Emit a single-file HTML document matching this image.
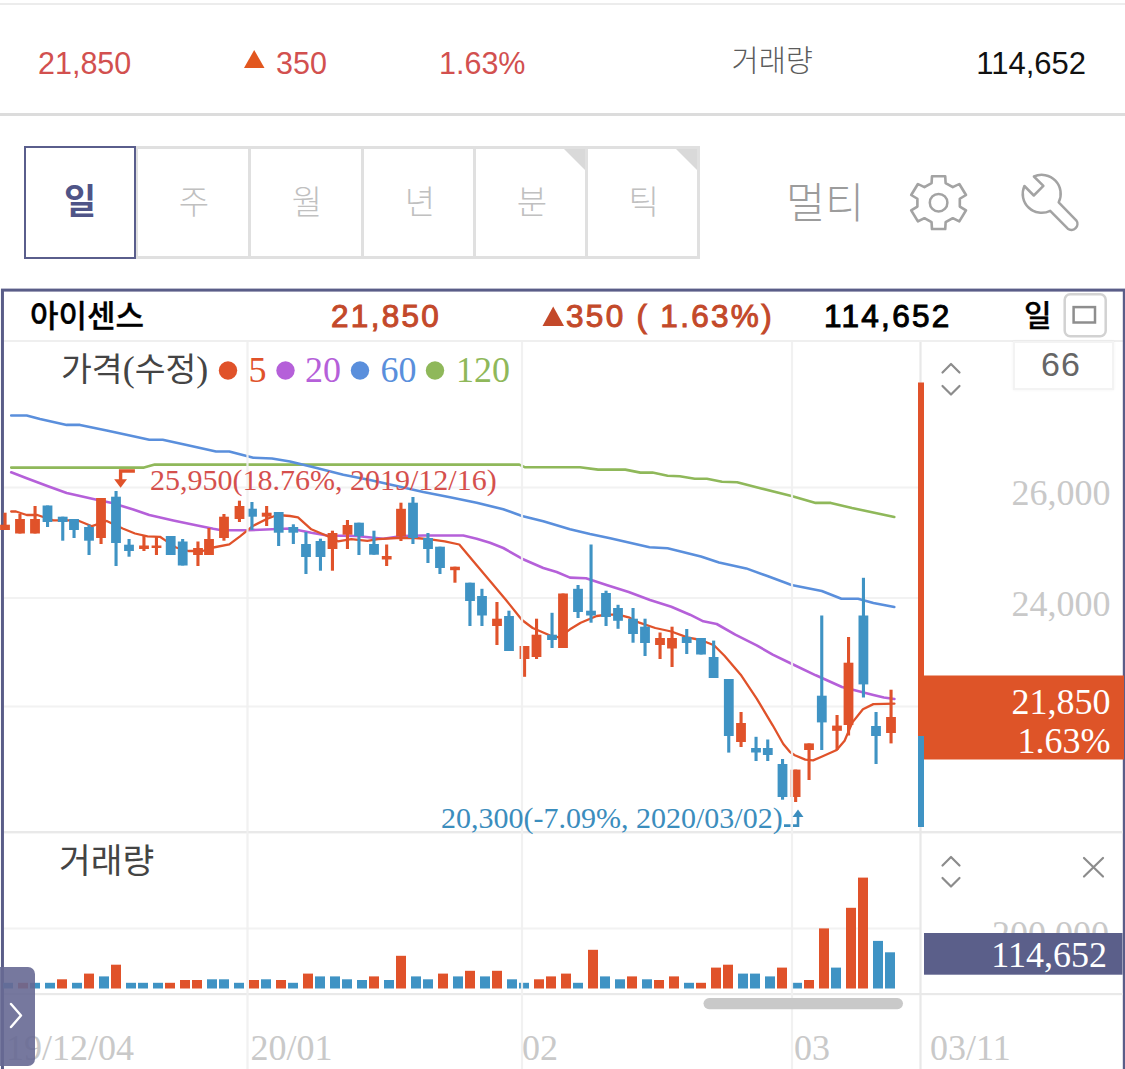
<!DOCTYPE html>
<html lang="ko"><head><meta charset="utf-8"><title>아이센스 차트</title>
<style>
html,body{margin:0;padding:0;background:#fff;}
body{width:1125px;height:1069px;position:relative;overflow:hidden;font-family:"Liberation Sans","Noto Sans CJK KR",sans-serif;}
.a{position:absolute;white-space:nowrap;line-height:1;}
.sans{font-family:"Liberation Sans","Noto Sans CJK KR",sans-serif;}
.ser{font-family:"Liberation Serif","Noto Sans CJK KR",serif;}
.top{font-size:30.5px;color:#d2504f;top:48px;}
.tab{position:absolute;top:146px;height:113px;width:116px;padding-top:1px;border:3px solid #e0e0e0;box-sizing:border-box;color:#c0c0c0;font-weight:300;font-size:33px;text-align:center;line-height:105px;text-indent:3px;background:#fff;}
.tab.on{border:2px solid #5a5e8c;color:#4f5487;font-weight:bold;font-size:35px;z-index:2;text-indent:0;line-height:106px;}
.tri{position:absolute;right:0;top:0;width:0;height:0;border-top:21px solid #d9d9d9;border-left:21px solid transparent;}
.hd{top:300.5px;font-size:31.5px;font-weight:normal;-webkit-text-stroke:1px currentColor;}
.ax{font-size:36px;color:#c9c9c9;}
svg{position:absolute;left:0;top:0;}
</style></head><body>
<div class="a" style="left:0;top:2.5px;width:1125px;height:2px;background:#ececec"></div>
<div class="a" style="left:0;top:113px;width:1125px;height:3.4px;background:#dcdcdc"></div>
<div class="a top" style="left:38px;">21,850</div>
<div class="a top" style="left:276px;">350</div>
<div class="a top" style="left:439px;">1.63%</div>
<div class="a" style="left:731.5px;top:46px;font-size:29.5px;font-weight:300;color:#5c5c5c;">거래량</div>
<div class="a top" style="right:39px;color:#111;font-size:31px;">114,652</div>

<div class="tab on" style="left:24px;width:112px;">일</div>
<div class="tab" style="left:134.5px;">주</div>
<div class="tab" style="left:247.5px;">월</div>
<div class="tab" style="left:360.5px;">년</div>
<div class="tab" style="left:473px;width:115px;">분<span class="tri"></span></div>
<div class="tab" style="left:585px;width:114.5px;">틱<span class="tri"></span></div>
<div class="a" style="left:786px;top:183px;font-size:42.5px;font-weight:300;color:#9c9c9c;">멀티</div>

<div class="a" style="left:4px;top:339.6px;width:1119px;height:2.2px;background:#efefef"></div>
<div class="a hd" style="left:30px;top:300.5px;color:#000;font-size:31px;font-weight:500;-webkit-text-stroke:0.3px #000;">아이센스</div>
<div class="a hd" id="h1" style="left:331px;color:#c3492a;letter-spacing:2.3px;">21,850</div>
<div class="a hd" id="h2" style="left:566px;color:#c3492a;letter-spacing:2.3px;">350 ( 1.63%)</div>
<div class="a hd" id="h3" style="left:824px;color:#000;letter-spacing:2.3px;">114,652</div>
<div class="a hd" style="left:1024px;top:300.5px;color:#000;font-size:30px;font-weight:500;-webkit-text-stroke:0.3px #000;">일</div>

<div class="a" style="left:1013px;top:341px;width:97px;height:45px;border:2px solid #f3f3f3;background:#fff;box-shadow:0 0 3px rgba(0,0,0,0.05);"></div>
<div class="a sans" style="left:1041px;top:347px;font-size:34px;letter-spacing:1px;color:#666;">66</div>

<svg width="1125" height="1069" viewBox="0 0 1125 1069">
<rect x="2.45" y="290.1" width="1121.85" height="800" fill="none" stroke="#5a5d88" stroke-width="3"/>
<rect x="1064.7" y="294.2" width="41" height="42" rx="5.5" fill="#fff" stroke="#d2d2d2" stroke-width="2.5"/>
<rect x="1073.6" y="307.1" width="21.4" height="15.4" fill="none" stroke="#8e8e8e" stroke-width="2.5"/>
<polygon points="244,68 264.5,68 254.2,50" fill="#e2571f"/>
<polygon points="542.5,326 564,326 553.2,306.5" fill="#c3492a"/>
<g transform="translate(938.6,202.7) scale(1.05,1)"><path d="M-6.7,-19.5 L-6.3,-26.4 L6.3,-26.4 L6.7,-19.5 L13.5,-15.5 L19.7,-18.7 L26.1,-7.7 L20.2,-3.9 L20.2,3.9 L26.1,7.7 L19.7,18.7 L13.5,15.5 L6.7,19.5 L6.3,26.4 L-6.3,26.4 L-6.7,19.5 L-13.5,15.5 L-19.7,18.7 L-26.1,7.7 L-20.2,3.9 L-20.2,-3.9 L-26.1,-7.7 L-19.7,-18.7 L-13.5,-15.5Z" fill="none" stroke="#a3a3a3" stroke-width="2.5" stroke-linejoin="round"/></g>
<circle cx="938.6" cy="202.7" r="8.8" fill="none" stroke="#a3a3a3" stroke-width="2.5"/>
<path d="M1033.9,176.5 L1043.4,185.9 L1033.8,195.5 L1024.4,186 A19 19 0 0 0 1050.2,210.8 L1067.8,228.7 A6 6 0 0 0 1076.2,220.3 L1058.7,202.3 A19 19 0 0 0 1033.9,176.5 Z" fill="none" stroke="#a3a3a3" stroke-width="2.5" stroke-linejoin="round"/>
<rect x="4" y="486.5" width="916" height="2" fill="#f2f2f2"/>
<rect x="4" y="597.0" width="916" height="2" fill="#f2f2f2"/>
<rect x="4" y="705.5" width="916" height="2" fill="#f2f2f2"/>
<rect x="4" y="927.5" width="916" height="2" fill="#f2f2f2"/>
<rect x="4" y="831" width="1119" height="2.4" fill="#e9e9e9"/>
<rect x="4" y="993" width="1119" height="2.2" fill="#e9e9e9"/>
<polyline fill="none" stroke="#8fb85a" stroke-width="2.6" stroke-linejoin="round" stroke-linecap="round" points="11.2,467.6 144.0,467.6 154.7,464.6 519.3,464.6 524.7,467.2 580.0,467.2 598.1,469.6 625.3,469.6 640.4,472.6 652.5,472.6 667.6,475.7 679.7,476.3 694.8,478.7 706.9,478.7 722.0,481.7 737.1,482.3 761.3,488.4 791.5,495.9 815.7,502.9 830.8,502.9 852.0,508.0 894.3,517.0"/>
<polyline fill="none" stroke="#5a8fdc" stroke-width="2.6" stroke-linejoin="round" stroke-linecap="round" points="11.2,415.5 26.7,415.5 40.0,419.0 66.7,424.9 80.0,424.9 106.7,430.5 133.3,436.3 149.3,439.8 162.7,439.8 186.7,445.0 216.0,451.5 229.3,451.5 253.3,457.7 272.0,458.5 290.0,461.5 316.7,468.0 343.3,474.7 370.0,480.0 396.7,485.9 423.3,492.0 450.0,497.3 476.7,502.7 503.3,509.3 522.0,516.0 543.3,521.3 570.0,529.3 590.0,534.0 610.2,538.2 649.5,547.3 667.6,548.2 700.9,556.4 719.0,562.4 746.2,568.4 767.4,576.0 791.5,585.0 821.8,591.0 841.4,598.7 858.0,598.7 873.4,603.0 894.3,607.0"/>
<polyline fill="none" stroke="#b560d9" stroke-width="2.6" stroke-linejoin="round" stroke-linecap="round" points="11.2,472.3 26.7,478.2 48.0,486.2 66.7,493.0 93.3,499.0 112.0,503.0 133.3,509.5 149.3,515.0 173.3,520.5 197.3,525.5 213.3,528.8 221.3,530.2 248.0,530.2 290.0,528.5 311.3,532.8 327.3,535.5 356.7,536.0 383.3,538.7 402.0,536.0 423.3,535.5 463.3,535.5 476.7,538.7 490.0,542.7 503.3,548.0 522.0,558.7 543.3,568.0 556.7,572.0 570.0,577.6 586.0,578.3 607.3,585.3 628.7,592.0 650.0,600.0 671.3,606.7 690.0,614.7 703.3,621.3 716.7,624.0 735.3,634.7 756.7,645.3 772.7,654.7 790.0,663.0 815.8,675.3 842.0,687.0 857.7,691.0 873.4,695.0 883.9,697.5 894.4,699.0"/>
<polyline fill="none" stroke="#e0522a" stroke-width="2.3" stroke-linejoin="round" stroke-linecap="round" points="11.2,511.5 16.0,511.5 26.7,515.0 37.3,515.0 53.3,520.3 64.0,520.3 77.3,520.3 92.0,526.2 106.7,521.0 122.7,528.5 135.0,533.5 147.6,536.3 160.0,536.8 165.3,540.4 176.0,547.5 188.4,551.0 202.7,551.0 213.3,547.5 229.3,544.3 240.0,536.3 253.3,525.7 266.7,519.0 277.3,515.0 290.0,516.0 298.0,517.3 311.3,529.3 327.3,536.0 338.0,541.3 351.3,539.2 367.3,540.8 378.0,539.2 396.7,538.0 415.3,538.0 428.7,539.2 444.7,541.3 459.3,544.5 476.7,565.3 490.0,581.0 506.0,600.0 522.0,620.0 532.7,628.0 551.3,636.0 559.3,637.3 570.0,629.3 580.7,622.7 596.7,616.0 607.3,614.7 618.0,614.7 628.7,617.3 639.3,622.7 655.3,628.0 671.3,631.5 687.3,637.3 700.7,640.0 714.0,645.3 724.7,656.0 740.7,674.7 756.7,698.7 772.7,725.3 783.3,744.0 790.0,752.0 794.8,755.2 805.3,759.6 813.1,760.4 821.0,757.0 836.7,750.0 844.6,740.8 852.4,722.4 862.9,709.3 873.4,704.1 894.4,703.6"/>
<rect x="3.5" y="512.7" width="3.1" height="17.3" fill="#e0522a"/>
<rect x="0.1" y="524.7" width="9.8" height="5.3" fill="#e0522a"/>
<rect x="18.4" y="514.0" width="3.1" height="19.5" fill="#e0522a"/>
<rect x="15.1" y="519.0" width="9.8" height="14.5" fill="#e0522a"/>
<rect x="33.5" y="506.0" width="3.1" height="27.5" fill="#e0522a"/>
<rect x="30.1" y="519.0" width="9.8" height="14.5" fill="#e0522a"/>
<rect x="46.0" y="505.5" width="3.1" height="21.5" fill="#3f93c4"/>
<rect x="42.6" y="505.5" width="9.8" height="16.5" fill="#3f93c4"/>
<rect x="61.2" y="516.7" width="3.1" height="24.0" fill="#3f93c4"/>
<rect x="57.8" y="516.7" width="9.8" height="5.3" fill="#3f93c4"/>
<rect x="72.5" y="519.0" width="3.1" height="19.0" fill="#3f93c4"/>
<rect x="69.1" y="519.0" width="9.8" height="11.0" fill="#3f93c4"/>
<rect x="87.5" y="524.7" width="3.1" height="30.3" fill="#3f93c4"/>
<rect x="84.1" y="527.0" width="9.8" height="13.7" fill="#3f93c4"/>
<rect x="99.5" y="498.0" width="3.1" height="46.0" fill="#e0522a"/>
<rect x="96.1" y="498.0" width="9.8" height="40.0" fill="#e0522a"/>
<rect x="114.5" y="491.0" width="3.1" height="75.0" fill="#3f93c4"/>
<rect x="111.1" y="496.7" width="9.8" height="46.3" fill="#3f93c4"/>
<rect x="127.5" y="539.0" width="3.1" height="17.7" fill="#3f93c4"/>
<rect x="124.1" y="544.7" width="9.8" height="6.3" fill="#3f93c4"/>
<rect x="142.4" y="535.0" width="3.1" height="16.0" fill="#e0522a"/>
<rect x="139.1" y="545.5" width="9.8" height="3.5" fill="#e0522a"/>
<rect x="154.9" y="536.7" width="3.1" height="18.3" fill="#e0522a"/>
<rect x="151.6" y="545.5" width="9.8" height="2.5" fill="#e0522a"/>
<rect x="169.1" y="536.0" width="3.1" height="19.0" fill="#3f93c4"/>
<rect x="165.8" y="536.0" width="9.8" height="19.0" fill="#3f93c4"/>
<rect x="181.1" y="539.0" width="3.1" height="26.5" fill="#3f93c4"/>
<rect x="177.8" y="541.5" width="9.8" height="24.0" fill="#3f93c4"/>
<rect x="196.4" y="541.5" width="3.1" height="24.5" fill="#e0522a"/>
<rect x="193.1" y="548.0" width="9.8" height="7.0" fill="#e0522a"/>
<rect x="207.4" y="528.0" width="3.1" height="27.0" fill="#e0522a"/>
<rect x="204.1" y="539.0" width="9.8" height="16.0" fill="#e0522a"/>
<rect x="222.4" y="514.0" width="3.1" height="26.7" fill="#e0522a"/>
<rect x="219.1" y="516.7" width="9.8" height="21.3" fill="#e0522a"/>
<rect x="237.9" y="500.7" width="3.1" height="21.3" fill="#e0522a"/>
<rect x="234.6" y="506.0" width="9.8" height="13.0" fill="#e0522a"/>
<rect x="250.4" y="502.0" width="3.1" height="28.0" fill="#3f93c4"/>
<rect x="247.1" y="508.7" width="9.8" height="8.0" fill="#3f93c4"/>
<rect x="265.1" y="506.0" width="3.1" height="20.0" fill="#e0522a"/>
<rect x="261.8" y="512.7" width="9.8" height="4.0" fill="#e0522a"/>
<rect x="277.1" y="512.0" width="3.1" height="34.0" fill="#3f93c4"/>
<rect x="273.8" y="512.0" width="9.8" height="20.7" fill="#3f93c4"/>
<rect x="291.8" y="524.3" width="3.1" height="19.7" fill="#3f93c4"/>
<rect x="288.4" y="527.0" width="9.8" height="5.7" fill="#3f93c4"/>
<rect x="304.4" y="532.0" width="3.1" height="42.0" fill="#3f93c4"/>
<rect x="301.1" y="544.0" width="9.8" height="13.0" fill="#3f93c4"/>
<rect x="318.9" y="538.7" width="3.1" height="32.0" fill="#3f93c4"/>
<rect x="315.6" y="541.0" width="9.8" height="16.0" fill="#3f93c4"/>
<rect x="330.9" y="530.7" width="3.1" height="40.0" fill="#e0522a"/>
<rect x="327.6" y="533.0" width="9.8" height="16.0" fill="#e0522a"/>
<rect x="345.9" y="520.0" width="3.1" height="29.0" fill="#e0522a"/>
<rect x="342.6" y="525.0" width="9.8" height="9.7" fill="#e0522a"/>
<rect x="357.4" y="522.7" width="3.1" height="32.3" fill="#3f93c4"/>
<rect x="354.1" y="522.7" width="9.8" height="13.3" fill="#3f93c4"/>
<rect x="372.4" y="530.7" width="3.1" height="24.0" fill="#3f93c4"/>
<rect x="369.1" y="544.0" width="9.8" height="10.7" fill="#3f93c4"/>
<rect x="385.1" y="544.5" width="3.1" height="21.5" fill="#e0522a"/>
<rect x="381.8" y="556.0" width="9.8" height="3.5" fill="#e0522a"/>
<rect x="399.4" y="502.7" width="3.1" height="38.3" fill="#e0522a"/>
<rect x="396.1" y="508.8" width="9.8" height="27.7" fill="#e0522a"/>
<rect x="411.4" y="497.0" width="3.1" height="47.0" fill="#3f93c4"/>
<rect x="408.1" y="502.7" width="9.8" height="35.3" fill="#3f93c4"/>
<rect x="426.4" y="533.0" width="3.1" height="30.0" fill="#3f93c4"/>
<rect x="423.1" y="538.0" width="9.8" height="11.0" fill="#3f93c4"/>
<rect x="438.4" y="546.7" width="3.1" height="27.3" fill="#3f93c4"/>
<rect x="435.1" y="546.7" width="9.8" height="21.3" fill="#3f93c4"/>
<rect x="453.4" y="566.7" width="3.1" height="16.0" fill="#e0522a"/>
<rect x="450.1" y="566.7" width="9.8" height="3.5" fill="#e0522a"/>
<rect x="468.4" y="582.7" width="3.1" height="43.3" fill="#3f93c4"/>
<rect x="465.1" y="582.7" width="9.8" height="18.3" fill="#3f93c4"/>
<rect x="480.4" y="588.8" width="3.1" height="37.2" fill="#3f93c4"/>
<rect x="477.1" y="596.0" width="9.8" height="19.5" fill="#3f93c4"/>
<rect x="495.4" y="602.0" width="3.1" height="43.0" fill="#e0522a"/>
<rect x="492.1" y="618.7" width="9.8" height="7.3" fill="#e0522a"/>
<rect x="507.4" y="610.7" width="3.1" height="40.3" fill="#3f93c4"/>
<rect x="504.1" y="616.0" width="9.8" height="35.0" fill="#3f93c4"/>
<rect x="523.0" y="646.0" width="3.1" height="30.8" fill="#e0522a"/>
<rect x="519.6" y="646.0" width="9.8" height="13.0" fill="#e0522a"/>
<rect x="535.0" y="618.7" width="3.1" height="40.3" fill="#e0522a"/>
<rect x="531.6" y="634.7" width="9.8" height="22.3" fill="#e0522a"/>
<rect x="550.5" y="612.8" width="3.1" height="35.2" fill="#3f93c4"/>
<rect x="547.1" y="634.7" width="9.8" height="5.3" fill="#3f93c4"/>
<rect x="561.5" y="593.5" width="3.1" height="54.5" fill="#e0522a"/>
<rect x="558.1" y="593.5" width="9.8" height="54.5" fill="#e0522a"/>
<rect x="576.5" y="585.0" width="3.1" height="33.0" fill="#3f93c4"/>
<rect x="573.1" y="588.8" width="9.8" height="23.2" fill="#3f93c4"/>
<rect x="589.5" y="544.5" width="3.1" height="78.2" fill="#3f93c4"/>
<rect x="586.1" y="610.7" width="9.8" height="4.8" fill="#3f93c4"/>
<rect x="604.5" y="590.7" width="3.1" height="35.3" fill="#3f93c4"/>
<rect x="601.1" y="593.0" width="9.8" height="24.0" fill="#3f93c4"/>
<rect x="616.5" y="604.8" width="3.1" height="24.0" fill="#3f93c4"/>
<rect x="613.1" y="608.0" width="9.8" height="12.8" fill="#3f93c4"/>
<rect x="631.5" y="608.0" width="3.1" height="34.7" fill="#3f93c4"/>
<rect x="628.1" y="618.7" width="9.8" height="15.3" fill="#3f93c4"/>
<rect x="643.5" y="618.7" width="3.1" height="37.3" fill="#3f93c4"/>
<rect x="640.1" y="626.7" width="9.8" height="16.3" fill="#3f93c4"/>
<rect x="658.5" y="632.5" width="3.1" height="26.5" fill="#e0522a"/>
<rect x="655.1" y="638.0" width="9.8" height="7.0" fill="#e0522a"/>
<rect x="670.5" y="626.7" width="3.1" height="40.3" fill="#e0522a"/>
<rect x="667.1" y="638.0" width="9.8" height="10.5" fill="#e0522a"/>
<rect x="685.2" y="629.0" width="3.1" height="25.0" fill="#3f93c4"/>
<rect x="681.8" y="637.0" width="9.8" height="6.0" fill="#3f93c4"/>
<rect x="699.5" y="638.0" width="3.1" height="16.5" fill="#3f93c4"/>
<rect x="696.1" y="638.0" width="9.8" height="16.5" fill="#3f93c4"/>
<rect x="712.1" y="640.6" width="3.1" height="37.4" fill="#3f93c4"/>
<rect x="708.7" y="657.0" width="9.8" height="21.0" fill="#3f93c4"/>
<rect x="727.2" y="679.0" width="3.1" height="73.6" fill="#3f93c4"/>
<rect x="723.9" y="679.0" width="9.8" height="57.0" fill="#3f93c4"/>
<rect x="739.5" y="712.0" width="3.1" height="35.0" fill="#e0522a"/>
<rect x="736.1" y="723.0" width="9.8" height="19.0" fill="#e0522a"/>
<rect x="754.5" y="736.8" width="3.1" height="24.2" fill="#3f93c4"/>
<rect x="751.1" y="748.0" width="9.8" height="4.5" fill="#3f93c4"/>
<rect x="766.2" y="739.5" width="3.1" height="21.5" fill="#3f93c4"/>
<rect x="762.9" y="748.0" width="9.8" height="7.0" fill="#3f93c4"/>
<rect x="781.0" y="759.0" width="3.1" height="40.7" fill="#3f93c4"/>
<rect x="777.6" y="764.0" width="9.8" height="33.0" fill="#3f93c4"/>
<rect x="794.1" y="769.6" width="3.1" height="32.4" fill="#e0522a"/>
<rect x="790.7" y="769.6" width="9.8" height="27.4" fill="#e0522a"/>
<rect x="807.5" y="743.4" width="3.1" height="36.6" fill="#e0522a"/>
<rect x="804.1" y="743.4" width="9.8" height="6.6" fill="#e0522a"/>
<rect x="820.2" y="615.5" width="3.1" height="134.5" fill="#3f93c4"/>
<rect x="816.9" y="695.7" width="9.8" height="26.7" fill="#3f93c4"/>
<rect x="835.5" y="715.0" width="3.1" height="35.0" fill="#e0522a"/>
<rect x="832.1" y="725.6" width="9.8" height="5.2" fill="#e0522a"/>
<rect x="847.0" y="637.0" width="3.1" height="98.5" fill="#e0522a"/>
<rect x="843.6" y="662.7" width="9.8" height="62.3" fill="#e0522a"/>
<rect x="861.9" y="577.8" width="3.1" height="119.7" fill="#3f93c4"/>
<rect x="858.5" y="615.5" width="9.8" height="68.9" fill="#3f93c4"/>
<rect x="874.5" y="712.0" width="3.1" height="52.0" fill="#3f93c4"/>
<rect x="871.1" y="726.0" width="9.8" height="10.0" fill="#3f93c4"/>
<rect x="889.5" y="689.7" width="3.1" height="53.7" fill="#e0522a"/>
<rect x="886.1" y="717.0" width="9.8" height="16.0" fill="#e0522a"/>
<rect x="3.0" y="982.8" width="10" height="5.7" fill="#3f93c4"/>
<rect x="18.0" y="982.8" width="10" height="5.7" fill="#e0522a"/>
<rect x="30.0" y="982.8" width="10" height="5.7" fill="#3f93c4"/>
<rect x="45.0" y="982.8" width="10" height="5.7" fill="#3f93c4"/>
<rect x="57.0" y="979.3" width="10" height="9.2" fill="#e0522a"/>
<rect x="72.0" y="982.8" width="10" height="5.7" fill="#3f93c4"/>
<rect x="84.0" y="973.6" width="10" height="14.9" fill="#e0522a"/>
<rect x="99.0" y="976.4" width="10" height="12.1" fill="#3f93c4"/>
<rect x="111.0" y="964.7" width="10" height="23.8" fill="#e0522a"/>
<rect x="126.0" y="982.8" width="10" height="5.7" fill="#3f93c4"/>
<rect x="138.0" y="982.8" width="10" height="5.7" fill="#3f93c4"/>
<rect x="153.0" y="982.8" width="10" height="5.7" fill="#3f93c4"/>
<rect x="165.0" y="982.8" width="10" height="5.7" fill="#e0522a"/>
<rect x="180.0" y="980.0" width="10" height="8.5" fill="#e0522a"/>
<rect x="192.0" y="980.0" width="10" height="8.5" fill="#e0522a"/>
<rect x="207.0" y="979.3" width="10" height="9.2" fill="#3f93c4"/>
<rect x="219.0" y="979.3" width="10" height="9.2" fill="#3f93c4"/>
<rect x="234.0" y="982.8" width="10" height="5.7" fill="#3f93c4"/>
<rect x="249.0" y="980.0" width="10" height="8.5" fill="#e0522a"/>
<rect x="261.0" y="979.3" width="10" height="9.2" fill="#3f93c4"/>
<rect x="276.0" y="980.0" width="10" height="8.5" fill="#e0522a"/>
<rect x="288.0" y="982.8" width="10" height="5.7" fill="#3f93c4"/>
<rect x="303.0" y="973.6" width="10" height="14.9" fill="#e0522a"/>
<rect x="315.0" y="976.4" width="10" height="12.1" fill="#3f93c4"/>
<rect x="330.0" y="976.4" width="10" height="12.1" fill="#3f93c4"/>
<rect x="342.0" y="979.3" width="10" height="9.2" fill="#3f93c4"/>
<rect x="357.0" y="980.0" width="10" height="8.5" fill="#3f93c4"/>
<rect x="369.0" y="976.4" width="10" height="12.1" fill="#e0522a"/>
<rect x="384.0" y="980.0" width="10" height="8.5" fill="#3f93c4"/>
<rect x="396.0" y="955.8" width="10" height="32.7" fill="#e0522a"/>
<rect x="411.0" y="976.4" width="10" height="12.1" fill="#3f93c4"/>
<rect x="423.0" y="979.3" width="10" height="9.2" fill="#3f93c4"/>
<rect x="438.0" y="973.6" width="10" height="14.9" fill="#e0522a"/>
<rect x="453.0" y="976.4" width="10" height="12.1" fill="#3f93c4"/>
<rect x="465.0" y="970.8" width="10" height="17.7" fill="#e0522a"/>
<rect x="480.0" y="976.4" width="10" height="12.1" fill="#3f93c4"/>
<rect x="492.0" y="970.8" width="10" height="17.7" fill="#e0522a"/>
<rect x="507.0" y="979.3" width="10" height="9.2" fill="#3f93c4"/>
<rect x="519.0" y="982.8" width="10" height="5.7" fill="#3f93c4"/>
<rect x="534.0" y="979.3" width="10" height="9.2" fill="#e0522a"/>
<rect x="546.0" y="976.4" width="10" height="12.1" fill="#e0522a"/>
<rect x="561.0" y="973.6" width="10" height="14.9" fill="#e0522a"/>
<rect x="573.0" y="982.8" width="10" height="5.7" fill="#3f93c4"/>
<rect x="588.0" y="949.8" width="10" height="38.7" fill="#e0522a"/>
<rect x="600.0" y="976.4" width="10" height="12.1" fill="#3f93c4"/>
<rect x="615.0" y="979.3" width="10" height="9.2" fill="#3f93c4"/>
<rect x="627.0" y="976.4" width="10" height="12.1" fill="#e0522a"/>
<rect x="642.0" y="979.3" width="10" height="9.2" fill="#3f93c4"/>
<rect x="654.0" y="980.0" width="10" height="8.5" fill="#e0522a"/>
<rect x="669.0" y="976.4" width="10" height="12.1" fill="#e0522a"/>
<rect x="684.0" y="982.8" width="10" height="5.7" fill="#3f93c4"/>
<rect x="696.0" y="982.8" width="10" height="5.7" fill="#e0522a"/>
<rect x="711.0" y="967.6" width="10" height="20.9" fill="#e0522a"/>
<rect x="723.0" y="964.7" width="10" height="23.8" fill="#e0522a"/>
<rect x="738.0" y="973.6" width="10" height="14.9" fill="#3f93c4"/>
<rect x="750.0" y="973.6" width="10" height="14.9" fill="#3f93c4"/>
<rect x="765.0" y="976.4" width="10" height="12.1" fill="#3f93c4"/>
<rect x="777.0" y="967.6" width="10" height="20.9" fill="#e0522a"/>
<rect x="792.0" y="982.8" width="10" height="5.7" fill="#3f93c4"/>
<rect x="804.0" y="980.0" width="10" height="8.5" fill="#e0522a"/>
<rect x="819.0" y="928.4" width="10" height="60.1" fill="#e0522a"/>
<rect x="831.0" y="967.6" width="10" height="20.9" fill="#3f93c4"/>
<rect x="846.0" y="907.8" width="10" height="80.7" fill="#e0522a"/>
<rect x="858.0" y="877.6" width="10" height="110.9" fill="#e0522a"/>
<rect x="873.0" y="940.9" width="10" height="47.6" fill="#3f93c4"/>
<rect x="885.0" y="952.3" width="10" height="36.2" fill="#3f93c4"/>
<rect x="246.4" y="342" width="2.2" height="727" fill="#f0f0f0" fill-opacity="0.92"/>
<rect x="520.9" y="342" width="2.2" height="727" fill="#f0f0f0" fill-opacity="0.92"/>
<rect x="790.9" y="342" width="2.2" height="727" fill="#f0f0f0" fill-opacity="0.92"/>
<rect x="919.4" y="342" width="2.2" height="727" fill="#e8e8e8"/>
<rect x="918" y="382.5" width="6" height="300" fill="#e0522a"/>
<rect x="918" y="675.5" width="206" height="84" fill="#de5428"/>
<rect x="918" y="736" width="6" height="91" fill="#3f93c4"/>
<rect x="924" y="933" width="198.5" height="41.7" fill="#5b5f8a"/>
<rect x="703.5" y="998" width="199.5" height="11.2" rx="5.6" fill="#c9c9c9"/>
<polyline fill="none" stroke="#8c8c8c" stroke-width="2.2" stroke-linecap="round" stroke-linejoin="round" points="942.5,372.5 951,364 959.5,372.5"/>
<polyline fill="none" stroke="#8c8c8c" stroke-width="2.2" stroke-linecap="round" stroke-linejoin="round" points="942.5,386 951,394.5 959.5,386"/>
<polyline fill="none" stroke="#8c8c8c" stroke-width="2.2" stroke-linecap="round" stroke-linejoin="round" points="942.5,865.5 951,857 959.5,865.5"/>
<polyline fill="none" stroke="#8c8c8c" stroke-width="2.2" stroke-linecap="round" stroke-linejoin="round" points="942.5,878 951,886.5 959.5,878"/>
<path fill="none" stroke="#8c8c8c" stroke-width="2.2" stroke-linecap="round" stroke-linejoin="round" d="M1084,858 L1103,876.5 M1103,858 L1084,876.5"/>
<path d="M134.9,471 H120.6 V481" fill="none" stroke="#e0522a" stroke-width="3.4"/>
<polygon points="114.2,479.2 127,479.2 120.6,487.7" fill="#e0522a"/>
<path d="M784,825.6 H790.5 M793,825.6 H798 V815" fill="none" stroke="#3b8dbd" stroke-width="2.6"/>
<polygon points="792.5,817 803.5,817 798,809.5" fill="#3b8dbd"/>
<circle cx="228" cy="370.5" r="9.2" fill="#e0522a"/>
<circle cx="285.5" cy="370.5" r="9.2" fill="#b560d9"/>
<circle cx="360" cy="370.5" r="9.2" fill="#5a8fdc"/>
<circle cx="435" cy="370.5" r="9.2" fill="#8fb85a"/>
</svg>

<div class="a ser" style="left:61px;top:351px;font-size:36px;color:#444;"><span class="sans" style="font-size:33.5px">가격</span>(<span class="sans" style="font-size:33.5px">수정</span>)</div>
<div class="a ser" style="left:248.5px;top:352px;font-size:36px;color:#e0522a;">5</div>
<div class="a ser" style="left:305px;top:352px;font-size:36px;color:#b560d9;">20</div>
<div class="a ser" style="left:380.5px;top:352px;font-size:36px;color:#5a8fdc;">60</div>
<div class="a ser" style="left:456px;top:352px;font-size:36px;color:#8fb85a;">120</div>
<div class="a ser" style="left:150px;top:465px;font-size:30px;color:#d5504d;">25,950(18.76%, 2019/12/16)</div>
<div class="a ser" style="left:441px;top:803px;font-size:30px;color:#3b8dbd;">20,300(-7.09%, 2020/03/02)</div>
<div class="a ser ax" style="right:14.5px;top:474.5px;">26,000</div>
<div class="a ser ax" style="right:14.5px;top:585.5px;">24,000</div>
<div class="a ser" style="right:14.5px;top:684px;font-size:36px;color:#fff;">21,850</div>
<div class="a ser" style="right:14.5px;top:723px;font-size:36px;color:#fff;">1.63%</div>
<div class="a ser ax" style="right:16px;top:916px;height:17px;overflow:hidden;">200,000</div>
<div class="a ser" style="right:18px;top:937px;font-size:36px;color:#fff;">114,652</div>
<div class="a sans" style="left:59px;top:844px;font-size:34.5px;color:#444;">거래량</div>
<div class="a ser ax" style="left:6px;top:1030px;">19/12/04</div>
<div class="a ser ax" style="left:250.5px;top:1030px;">20/01</div>
<div class="a ser ax" style="left:522px;top:1030px;">02</div>
<div class="a ser ax" style="left:794px;top:1030px;">03</div>
<div class="a ser ax" style="left:930px;top:1030px;">03/11</div>
<div class="a" style="left:0;top:966.5px;width:34.5px;height:99px;background:rgba(103,105,147,0.9);border-radius:0 7px 7px 0;"></div>
<svg width="1125" height="1069" viewBox="0 0 1125 1069" style="pointer-events:none"><polyline points="11,1004 21,1015.5 11,1027" fill="none" stroke="#fff" stroke-width="2.4" stroke-linecap="round" stroke-linejoin="round"/></svg>
</body></html>
